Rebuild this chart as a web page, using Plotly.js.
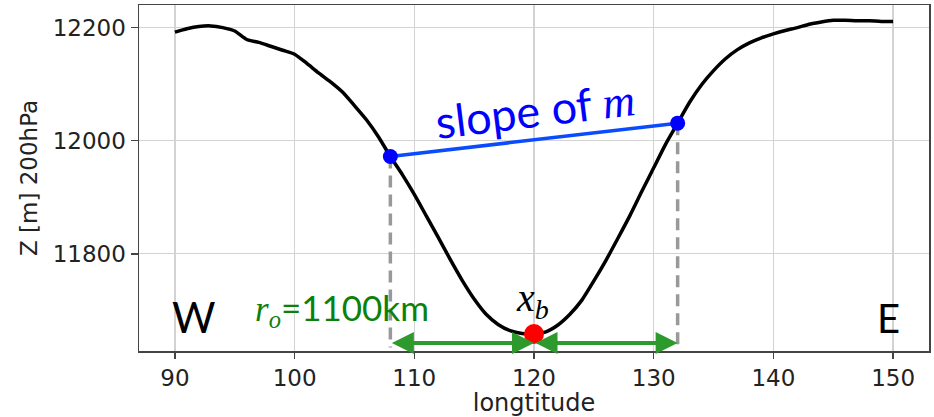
<!DOCTYPE html>
<html>
<head>
<meta charset="utf-8">
<script src="https://cdn.plot.ly/plotly-3.0.1.min.js"></script>
<style>body{margin:0;background:#fff}#chart{width:934px;height:417px}</style>
</head>
<body>
<div id="chart"></div>
<script>
// Longitude (deg E) and 200 hPa geopotential height (m)
const lon = [90,91,92,93,94,95,96,97,98,99,100,101,102,103,104,105,106,107,108,109,110,111,112,113,114,115,116,117,118,119,120,121,122,123,124,125,126,127,128,129,130,131,132,133,134,135,136,137,138,139,140,141,142,143,144,145,146,147,148,149,150];
const z200 = [12192,12198,12202,12203,12200,12194,12179,12174,12167,12160,12153,12137,12120,12104,12086,12062,12037,12007,11972,11940,11905,11867,11829,11790,11753,11720,11693,11675,11664,11659,11658,11662,11674,11693,11718,11752,11788,11827,11867,11910,11952,11994,12031,12068,12099,12124,12145,12161,12173,12182,12189,12195,12200,12206,12210,12213,12213,12212,12212,12211,12211];

// Key points
const edgeLon = [108, 132];
const edgeZ = [11972, 12031];
const baseLon = [120];
const baseZ = [11658];
const arrowZ = 11642;
const dashBottom = 11634;

const xTicks = [90,100,110,120,130,140,150];
const yTicks = [11800,12000,12200];

const traces = [
  {x: lon, y: z200, mode: 'lines', line: {color: '#000', width: 3.5, shape: 'spline', smoothing: 0.6}, hoverinfo: 'skip'},
  {x: [edgeLon[0], edgeLon[0]], y: [edgeZ[0], dashBottom], mode: 'lines', line: {color: '#999', width: 3.5, dash: '12px,7px'}},
  {x: [edgeLon[1], edgeLon[1]], y: [edgeZ[1], dashBottom], mode: 'lines', line: {color: '#999', width: 3.5, dash: '12px,7px'}},
  {x: edgeLon, y: edgeZ, mode: 'lines+markers', line: {color: '#0a4bff', width: 3.5}, marker: {color: '#0000ff', size: 15}, cliponaxis: false},
  {x: baseLon, y: baseZ, mode: 'markers', marker: {color: '#ff0000', size: 20}, cliponaxis: false}
];

const green = '#2e9a2e';
const layout = {
  width: 934, height: 417,
  margin: {l: 139, r: 5, t: 5, b: 66},
  paper_bgcolor: '#fff', plot_bgcolor: '#fff',
  showlegend: false,
  xaxis: {
    range: [87, 153], tickvals: xTicks, ticktext: xTicks.map(String),
    showgrid: true, gridcolor: '#d3d3d3', gridwidth: 1.3,
    zeroline: false, showline: true, linecolor: '#444', linewidth: 1.5, mirror: true,
    ticks: 'outside', ticklen: 6, tickwidth: 1.5, tickcolor: '#444',
    tickfont: {family: 'DejaVu Sans', size: 23, color: '#222'},
    title: {text: 'longtitude', font: {family: 'DejaVu Sans', size: 24, color: '#222'}, standoff: 1}
  },
  yaxis: {
    range: [11628, 12240], tickvals: yTicks, ticktext: yTicks.map(String),
    showgrid: true, gridcolor: '#d3d3d3', gridwidth: 1.3,
    zeroline: false, showline: true, linecolor: '#444', linewidth: 1.5, mirror: true,
    ticks: 'outside', ticklen: 7, tickwidth: 1.5, tickcolor: '#444',
    tickfont: {family: 'DejaVu Sans', size: 23, color: '#222'},
    title: {text: 'Z [m] 200hPa', font: {family: 'DejaVu Sans', size: 23, color: '#222'}, standoff: 8}
  },
  annotations: [
    {x: baseLon[0], y: arrowZ, ax: edgeLon[0], ay: arrowZ, xref: 'x', yref: 'y', axref: 'x', ayref: 'y',
     showarrow: true, arrowhead: 2, startarrowhead: 2, arrowside: 'end+start', arrowsize: 1.1, startarrowsize: 1.1,
     arrowwidth: 4, arrowcolor: green, text: ''},
    {x: edgeLon[1], y: arrowZ, ax: baseLon[0], ay: arrowZ, xref: 'x', yref: 'y', axref: 'x', ayref: 'y',
     showarrow: true, arrowhead: 2, startarrowhead: 2, arrowside: 'end+start', arrowsize: 1.1, startarrowsize: 1.1,
     arrowwidth: 4, arrowcolor: green, text: ''},
    {x: 120.1, y: 12055, xref: 'x', yref: 'y', showarrow: false, textangle: -7,
     text: 'slope of <span style="font-family:Liberation Serif"><i>m</i></span>',
     font: {family: 'Lato', size: 45, color: '#0000ff'}},
    {x: 104.0, y: 11701, xref: 'x', yref: 'y', showarrow: false,
     text: '<span style="font-family:Liberation Serif"><i>r</i><sub><i>o</i></sub></span>=1100km',
     font: {family: 'Lato', size: 35, color: '#0a820a'}},
    {x: 119.9, y: 11718, xref: 'x', yref: 'y', showarrow: false,
     text: '<i>x</i><sub><i>b</i></sub>',
     font: {family: 'Liberation Serif', size: 40, color: '#000'}},
    {x: 91.6, y: 11689, xref: 'x', yref: 'y', showarrow: false, text: 'W',
     font: {family: 'Lato', size: 42, color: '#000'}},
    {x: 149.6, y: 11686, xref: 'x', yref: 'y', showarrow: false, text: 'E',
     font: {family: 'Lato', size: 40, color: '#000'}}
  ]
};

Plotly.newPlot('chart', traces, layout, {displayModeBar: false, staticPlot: true});
</script>
</body>
</html>
